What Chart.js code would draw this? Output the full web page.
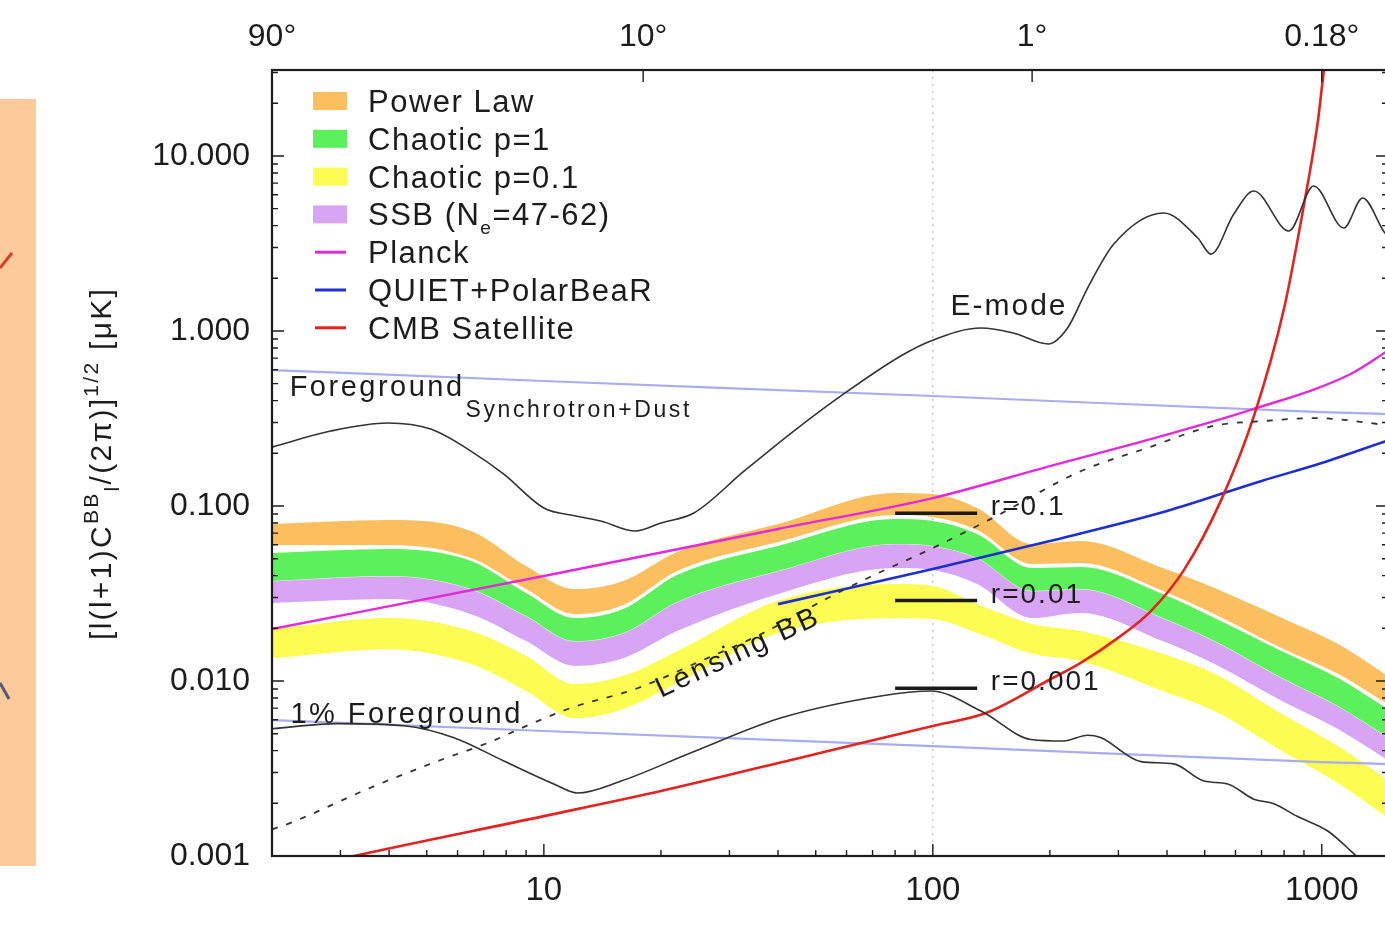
<!DOCTYPE html>
<html>
<head>
<meta charset="utf-8">
<title>BB spectrum</title>
<script src="https://cdn.jsdelivr.net/npm/chart.js@4.4.1/dist/chart.umd.min.js"></script>
<style>
  html, body { margin: 0; padding: 0; background: #fff; overflow: hidden; }
  canvas { display: block; }
</style>
</head>
<body>
<canvas id="bbChart" width="1390" height="928"></canvas>
<script>
const bandL = [2, 4, 6.5, 9, 12, 16, 22, 40, 80, 100, 130, 180, 240, 390, 530, 790, 1100, 1490];
const powerLawHi = [0.0789, 0.0832, 0.0720, 0.0454, 0.0335, 0.0373, 0.0546, 0.0789, 0.1187, 0.1171, 0.0974, 0.0607, 0.0631, 0.0442, 0.0340, 0.0229, 0.0163, 0.01054];
const powerLawLo = [0.0599, 0.0599, 0.0504, 0.0335, 0.0241, 0.0272, 0.0425, 0.0622, 0.0888, 0.0865, 0.0729, 0.0466, 0.0472, 0.0327, 0.0241, 0.0154, 0.0110, 0.00729];
const chaotic1Hi = [0.0539, 0.0568, 0.0485, 0.0318, 0.0229, 0.0258, 0.0403, 0.0591, 0.0843, 0.0821, 0.0692, 0.0442, 0.0448, 0.0314, 0.0229, 0.0148, 0.0104, 0.00683];
const chaotic1Lo = [0.0373, 0.0398, 0.0335, 0.0235, 0.0169, 0.0188, 0.0283, 0.0425, 0.0607, 0.0591, 0.0504, 0.0327, 0.0335, 0.0229, 0.0169, 0.0104, 0.00720, 0.00472];
const ssbHi = [0.0373, 0.0398, 0.0335, 0.0235, 0.0169, 0.0188, 0.0283, 0.0425, 0.0607, 0.0591, 0.0504, 0.0327, 0.0335, 0.0229, 0.0169, 0.0104, 0.00720, 0.00472];
const ssbLo = [0.0279, 0.0294, 0.0241, 0.0169, 0.0122, 0.0135, 0.0193, 0.0314, 0.0442, 0.0431, 0.0358, 0.0229, 0.0245, 0.0169, 0.0125, 0.00768, 0.00532, 0.00349];
const chaotic01Hi = [0.0198, 0.0229, 0.0193, 0.0139, 0.00961, 0.0107, 0.0148, 0.0287, 0.0358, 0.0349, 0.0275, 0.0212, 0.0193, 0.0143, 0.0110, 0.00648, 0.00425, 0.00268];
const chaotic01Lo = [0.0135, 0.0152, 0.0125, 0.00877, 0.00614, 0.00692, 0.00974, 0.0188, 0.0229, 0.0226, 0.0188, 0.0143, 0.0130, 0.00877, 0.00674, 0.00398, 0.00261, 0.00163];

// Experiment sensitivities
const planckL = [2, 10, 40, 100, 200, 363, 657, 1187, 1490];
const planckV = [0.0198, 0.0398, 0.0739, 0.111, 0.169, 0.241, 0.354, 0.568, 0.779];
const quietL = [40, 100, 200, 400, 700, 1000, 1490];
const quietV = [0.0275, 0.0437, 0.0631, 0.0936, 0.139, 0.176, 0.238];
const satL = [2, 3.25, 10, 20, 50, 100, 138, 200, 240, 300, 363, 442, 550, 669, 799, 899, 976, 1012, 1050];
const satV = [0.00078, 0.001, 0.00169, 0.00235, 0.00383, 0.00553, 0.0066, 0.0102, 0.0127, 0.0177, 0.0250, 0.0430, 0.1070, 0.326, 1.33, 5.2, 15.5, 30.6, 57];

// Foregrounds
const fgL = [2, 10, 100, 1000, 1490];
const fgV = [0.598, 0.518, 0.425, 0.344, 0.335];
const fg1V = [0.00598, 0.00518, 0.00425, 0.00344, 0.00335];

// E-mode spectrum
const emodeL = [2, 2.83, 3.97, 5.12, 6.49, 7.89, 10, 12.1, 14, 17.2, 20, 24.3, 32.7, 43.9, 59, 82.7, 98.8, 133, 161, 198, 222, 250, 292, 392, 480, 519, 594, 669, 823, 953, 1139, 1274, 1460, 1490];
const emodeV = [0.217, 0.268, 0.298, 0.275, 0.206, 0.152, 0.0974, 0.0877, 0.0821, 0.0720, 0.0799, 0.0912, 0.158, 0.268, 0.437, 0.720, 0.877, 1.04, 0.974, 0.843, 1.04, 1.76, 3.14, 4.72, 3.40, 2.75, 4.66, 6.31, 3.73, 6.74, 3.88, 5.75, 3.58, 3.49];

// Primordial BB for r=0.001
const bbL = [2, 2.95, 4.37, 5.87, 7.89, 10.6, 12.2, 15.8, 23.9, 40.6, 73.5, 98.8, 133, 179, 217, 250, 270, 343, 416, 498, 573, 669, 753, 867, 1036, 1187, 1336];
const bbV = [0.00534, 0.00571, 0.00555, 0.00474, 0.00349, 0.00258, 0.00229, 0.00268, 0.00389, 0.00614, 0.00821, 0.00876, 0.00674, 0.00463, 0.00454, 0.00490, 0.00475, 0.00346, 0.00336, 0.00268, 0.00258, 0.00211, 0.00199, 0.00168, 0.00139, 0.00107, 0.00083];

// Lensing BB
const lensL = [2, 2.24, 3.59, 5.34, 7.18, 9.26, 11.7, 17.4, 25.3, 36.1, 53.7, 68.1, 98.8, 143, 240, 357, 527, 710, 953, 1460, 1490];
const lensV = [0.00142, 0.00155, 0.00246, 0.00349, 0.00443, 0.00568, 0.00700, 0.00909, 0.0130, 0.0185, 0.0298, 0.0388, 0.0568, 0.0857, 0.158, 0.215, 0.287, 0.306, 0.318, 0.290, 0.288];

// r markers
const rBarL = [80, 130];
const rValues = [0.091, 0.0288, 0.0091];
const rLabels = ['r=0.1', 'r=0.01', 'r=0.001'];

// axes
const xTicks = [10, 100, 1000];
const degreeL = [2, 18, 180, 1000];
const degreeLabels = ['90°', '10°', '1°', '0.18°'];
const yTicks = [0.001, 0.01, 0.1, 1, 10];
const yTickLabels = ['0.001', '0.010', '0.100', '1.000', '10.000'];
const dottedL = 100;

const legendOrder = ['Power Law', 'Chaotic p=1', 'Chaotic p=0.1', 'SSB (N_e=47-62)', 'Planck', 'QUIET+PolarBeaR', 'CMB Satellite'];

const FONT = '"Liberation Sans", Arial, Helvetica, sans-serif';
const INK = '#1c1c1c';

function pts(ls, vs) {
    return ls.map((l, i) => ({ x: l, y: vs[i] }));
}

function line(label, ls, vs, color, width, extra) {
    return Object.assign({
        label: label,
        data: pts(ls, vs),
        borderColor: color,
        borderWidth: width,
        fill: false,
        pointRadius: 0,
        cubicInterpolationMode: 'monotone'
    }, extra || {});
}

function bandPair(label, hi, lo, color, edge) {
    return [
        {
            label: label,
            data: pts(bandL, hi),
            borderColor: edge || 'rgba(0,0,0,0)',
            borderWidth: edge ? 1 : 0,
            backgroundColor: color,
            fill: '+1',
            pointRadius: 0,
            cubicInterpolationMode: 'monotone',
            band: true
        },
        {
            label: '',
            data: pts(bandL, lo),
            borderWidth: 0,
            borderColor: 'rgba(0,0,0,0)',
            fill: false,
            pointRadius: 0,
            cubicInterpolationMode: 'monotone'
        }
    ];
}

const datasets = [];
rValues.forEach(v => {
    datasets.push(line('', rBarL, [v, v], '#1a1a1a', 3.5, { cubicInterpolationMode: 'default', tension: 0 }));
});
datasets.push(line('', emodeL, emodeV, '#333333', 1.6));
datasets.push(line('', bbL, bbV, '#333333', 1.6));
datasets.push(line('', lensL, lensV, '#333333', 1.8, { borderDash: [6, 9] }));
datasets.push(line('CMB Satellite', satL, satV, '#e2231f', 2.6));
datasets.push(line('QUIET+PolarBeaR', quietL, quietV, '#1d2fd0', 2.6));
datasets.push(line('Planck', planckL, planckV, '#e22ad8', 2.4));
datasets.push(line('', fgL, fgV, '#a9adf0', 2.2));
datasets.push(line('', fgL, fg1V, '#a9adf0', 2.2));
datasets.push(...bandPair('Power Law', powerLawHi, powerLawLo, '#fbbf5f'));
datasets.push(...bandPair('Chaotic p=1', chaotic1Hi, chaotic1Lo, '#5cf05c'));
datasets.push(...bandPair('SSB (N_e=47-62)', ssbHi, ssbLo, '#d8a4f4', 'rgba(255,255,255,0.7)'));
datasets.push(...bandPair('Chaotic p=0.1', chaotic01Hi, chaotic01Lo, '#fcfc52'));

function logTicks(min, max) {
    const out = [];
    for (let e = Math.floor(Math.log10(min)); e <= Math.ceil(Math.log10(max)); e++) {
        for (let m = 1; m <= 9; m++) {
            const v = m * Math.pow(10, e);
            if (v >= min * 0.999 && v <= max * 1.001) out.push({ v: v, major: m === 1 });
        }
    }
    return out;
}

// draw text pieces one after another: [text, size, dy]
function drawRich(ctx, parts, x, y, spacing) {
    let cx = x;
    ctx.letterSpacing = spacing + 'px';
    for (const p of parts) {
        ctx.font = p[1] + 'px ' + FONT;
        ctx.fillText(p[0], cx, y + p[2]);
        cx += ctx.measureText(p[0]).width;
    }
    ctx.letterSpacing = '0px';
    return cx;
}

function richLabel(text, size) {
    // "N_e" -> subscript e
    const parts = [];
    const re = /_(\w)/g;
    let last = 0, m;
    while ((m = re.exec(text)) !== null) {
        parts.push([text.slice(last, m.index), size, 0]);
        parts.push([m[1], Math.round(size * 0.62), 9]);
        last = re.lastIndex;
    }
    parts.push([text.slice(last), size, 0]);
    return parts;
}

const decorPlugin = {
    id: 'decor',
    beforeDraw(chart) {
        const ctx = chart.ctx;
        ctx.save();
        ctx.fillStyle = '#fff';
        ctx.fillRect(0, 0, chart.width, chart.height);
        // piece of the neighbouring figure
        ctx.fillStyle = '#fdcb9b';
        ctx.fillRect(0, 99, 36, 767);
        ctx.lineWidth = 3;
        ctx.strokeStyle = '#d8402c';
        ctx.beginPath(); ctx.moveTo(0, 268); ctx.lineTo(12, 253); ctx.stroke();
        ctx.strokeStyle = '#55577f';
        ctx.beginPath(); ctx.moveTo(0, 683); ctx.lineTo(9, 699); ctx.stroke();
        ctx.restore();
    },
    beforeDatasetsDraw(chart) {
        const { ctx, chartArea: a } = chart;
        const px = chart.scales.x.getPixelForValue(dottedL);
        ctx.save();
        ctx.strokeStyle = '#b0b0b0';
        ctx.lineWidth = 1;
        ctx.setLineDash([2, 5]);
        ctx.beginPath(); ctx.moveTo(px, a.top); ctx.lineTo(px, a.bottom); ctx.stroke();
        ctx.restore();
    },
    afterDatasetsDraw(chart) {
        const { ctx, chartArea: a } = chart;
        const xs = chart.scales.x, ys = chart.scales.y;
        const X = v => xs.getPixelForValue(v);
        const Y = v => ys.getPixelForValue(v);
        ctx.save();

        // frame and inward ticks
        ctx.strokeStyle = INK;
        ctx.lineWidth = 2.2;
        ctx.strokeRect(a.left, a.top, a.right - a.left, a.bottom - a.top);
        ctx.lineWidth = 1.4;
        ctx.beginPath();
        logTicks(xs.min, xs.max).forEach(t => {
            const len = t.major ? 12 : 6;
            ctx.moveTo(X(t.v), a.bottom); ctx.lineTo(X(t.v), a.bottom - len);
        });
        logTicks(ys.min, ys.max).forEach(t => {
            const len = t.major ? 12 : 6;
            ctx.moveTo(a.left, Y(t.v)); ctx.lineTo(a.left + len, Y(t.v));
            ctx.moveTo(a.right, Y(t.v)); ctx.lineTo(a.right - len, Y(t.v));
        });
        degreeL.forEach(l => {
            ctx.moveTo(X(l), a.top); ctx.lineTo(X(l), a.top + 12);
        });
        ctx.stroke();

        ctx.fillStyle = INK;
        ctx.textAlign = 'left';
        ctx.textBaseline = 'alphabetic';

        // r labels next to the bars
        rValues.forEach((v, i) => {
            drawRich(ctx, [[rLabels[i], 28, 0]], X(141), Y(v) + 2, 2);
        });

        // curve annotations
        drawRich(ctx, [['E-mode', 30, 0]], X(111), Y(1.234), 2);
        const fx = drawRich(ctx, [['Foreground', 29, 0]], X(2.22), Y(0.425), 2.5);
        drawRich(ctx, [['Synchrotron+Dust', 23, 0]], fx + 1, Y(0.425) + 21, 2.6);
        drawRich(ctx, [['1% Foreground', 29, 0]], X(2.23), Y(0.00575), 2.5);

        ctx.save();
        ctx.translate(X(20), Y(0.0080));
        ctx.rotate(-25 * Math.PI / 180);
        drawRich(ctx, [['Lensing BB', 29, 0]], 0, 0, 3);
        ctx.restore();

        // legend
        const lx = 313, ly = 101, step = 37.8;
        legendOrder.forEach((name, i) => {
            const ds = chart.data.datasets.find(d => d.label === name);
            const cy = ly + i * step;
            if (ds.band) {
                ctx.fillStyle = ds.backgroundColor;
                ctx.fillRect(lx, cy - 9, 34, 18);
            } else {
                ctx.strokeStyle = ds.borderColor;
                ctx.lineWidth = 3;
                ctx.beginPath(); ctx.moveTo(lx + 2, cy); ctx.lineTo(lx + 33, cy); ctx.stroke();
            }
            ctx.fillStyle = INK;
            drawRich(ctx, richLabel(name, 31), 368, cy + 11, 1.5);
        });

        // y axis title
        ctx.save();
        ctx.translate(111, 640);
        ctx.rotate(-Math.PI / 2);
        ctx.fillStyle = INK;
        drawRich(ctx, [
            ['[l(l+1)C', 30, 0], ['BB', 21, -13], ['l', 21, 8],
            ['/(2π)]', 30, 0], ['1/2', 21, -13], [' [μK]', 30, 0]
        ], 0, 0, 2.3);
        ctx.restore();

        ctx.restore();
    }
};

const tickFont = size => ({ family: FONT, size: size });

new Chart(document.getElementById('bbChart'), {
    type: 'line',
    data: { datasets: datasets },
    options: {
        responsive: false,
        animation: false,
        events: [],
        layout: { padding: { left: 0, right: 2, top: 0, bottom: 0 } },
        plugins: { legend: { display: false }, tooltip: { enabled: false } },
        scales: {
            x: {
                type: 'logarithmic',
                position: 'bottom',
                min: 2,
                max: 1480,
                grid: { display: false, drawTicks: false, tickLength: 0 },
                border: { display: false },
                afterBuildTicks: s => { s.ticks = xTicks.map(v => ({ value: v })); },
                afterFit: s => { s.height = 72; },
                ticks: {
                    autoSkip: false, maxRotation: 0, padding: 15,
                    color: INK, font: tickFont(33),
                    callback: v => String(v)
                }
            },
            xTop: {
                type: 'logarithmic',
                position: 'top',
                min: 2,
                max: 1480,
                grid: { display: false, drawTicks: false, tickLength: 0 },
                border: { display: false },
                afterBuildTicks: s => { s.ticks = degreeL.map(v => ({ value: v })); },
                afterFit: s => { s.height = 70; },
                ticks: {
                    autoSkip: false, maxRotation: 0, padding: 14,
                    color: INK, font: tickFont(32),
                    callback: (v, i) => degreeLabels[i]
                }
            },
            y: {
                type: 'logarithmic',
                min: 0.001,
                max: 31,
                grid: { display: false, drawTicks: false, tickLength: 0 },
                border: { display: false },
                afterBuildTicks: s => { s.ticks = yTicks.map(v => ({ value: v })); },
                afterFit: s => { s.width = 272; },
                ticks: {
                    autoSkip: false, padding: 22,
                    color: INK, font: tickFont(32),
                    callback: (v, i) => yTickLabels[i]
                }
            }
        }
    },
    plugins: [decorPlugin]
});
</script>
</body>
</html>
